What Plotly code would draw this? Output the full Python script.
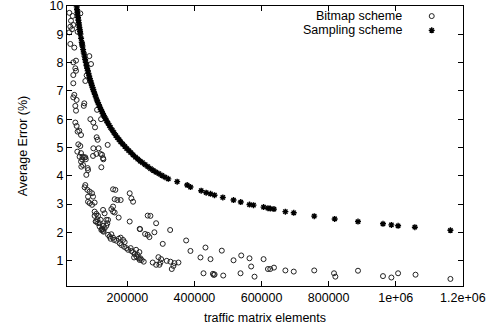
import plotly.graph_objects as go

# ---- data ----
bitmap_x = [
    26900, 36700, 31900, 38800, 29900, 34900, 26900, 59700, 51600, 29900,
    41800, 38800, 46900, 44800, 46900, 38800, 38800, 78500, 74600, 86600,
    91600, 41800, 38800, 48700, 44800, 46900, 71600, 70000, 109600, 121500,
    89600, 98500, 103600, 44800, 48700, 51600, 56700, 61800, 53700, 59700,
    108400, 111300, 141200, 98500, 114300, 61800, 66600, 74600, 124500, 128400,
    61800, 76000, 81500,
    50750, 57600, 64800, 70700, 67800, 62700, 97600, 107500, 120300, 127500,
    122400, 82700, 77600, 74600, 72500, 80600, 87500, 94600, 97600, 82700,
    82700, 87500, 94600, 102400, 102400, 107500, 112500, 110500, 120300, 117300,
    107500, 127500, 132200, 127500, 137300, 142400, 157300, 164200, 162100, 170200,
    180000, 157300, 152200, 157300, 162100, 174000, 206900, 211900, 217000, 206900,
    102400, 105400, 112500, 117300, 122400, 127500, 132200, 137300, 140300, 236700,
    142400, 150100, 157300, 160300, 167100, 174000, 180000, 177000, 182100, 190100,
    197000, 202100, 211900, 217000, 221800, 227000, 233700, 236700, 220000, 209900,
    191900, 187200, 147200, 152200, 126000, 129000, 124000,
    260600, 268700, 285700, 237900, 252800, 260600, 265700, 280600, 327500, 305400,
    375200, 388000, 432800, 481500, 417900, 447800, 516400, 426900, 457600, 455000,
    460000, 485700, 537300, 226000, 235800, 238800, 248700, 230700, 242700, 275500,
    285700, 292500, 300600, 298500, 295500, 317300, 328400, 340300, 337300, 332300,
    352200,
    539400, 564000, 569000, 579000, 606000, 619000, 626000, 637000, 671000, 696000,
    757000, 816000, 820000, 887500, 962000, 987000, 1007000, 1059000, 1163000,
]
bitmap_y = [
    9.76, 9.65, 9.48, 9.33, 9.27, 9.18, 9.07, 9.74, 9.09, 8.66,
    8.53, 8.01, 8.07, 7.80, 7.71, 7.56, 7.27, 7.55, 7.35, 8.23,
    7.95, 6.86, 6.77, 6.68, 6.47, 6.30, 6.56, 6.47, 6.33, 6.00,
    6.00, 5.88, 5.71, 5.88, 5.76, 5.56, 5.59, 5.44, 5.11, 5.05,
    5.36, 5.27, 5.09, 4.97, 4.97, 4.80, 4.67, 4.65, 4.74, 4.58,
    4.50, 4.58, 4.27,
    4.85, 4.67, 4.58, 4.65, 4.38, 4.32, 4.70, 4.77, 4.77, 4.62,
    4.30, 4.20, 4.03, 3.67, 3.59, 3.50, 3.44, 3.38, 3.26, 3.26,
    3.08, 3.03, 2.97, 3.05, 2.73, 2.65, 2.58, 2.46, 2.44, 2.32,
    2.38, 2.79, 2.67, 2.23, 2.23, 2.44, 3.52, 3.50, 3.17, 3.14,
    3.14, 2.91, 2.82, 2.73, 2.70, 2.52, 3.38, 3.20, 3.08, 2.38,
    2.58, 2.38, 2.32, 2.20, 2.08, 2.05, 2.14, 2.44, 2.32, 2.12,
    1.91, 1.77, 1.81, 1.73, 1.70, 1.77, 1.81, 1.61, 1.55, 1.49,
    1.44, 1.38, 1.34, 1.30, 1.23, 1.14, 1.08, 1.02, 1.11, 1.44,
    1.65, 1.73, 1.85, 1.93, 2.10, 2.02, 2.12,
    2.59, 2.58, 2.32, 2.11, 1.94, 1.91, 1.83, 2.00, 2.08, 1.59,
    1.71, 1.34, 1.46, 1.35, 1.11, 1.05, 1.01, 0.55, 0.49, 0.53,
    0.51, 0.47, 0.55, 1.38, 1.30, 1.08, 0.96, 1.20, 1.02, 0.93,
    0.85, 1.12, 1.05, 0.93, 0.85, 0.99, 0.96, 0.91, 0.81, 0.70,
    0.93,
    1.18, 1.08, 0.79, 0.43, 1.05, 0.70, 0.70, 0.75, 0.65, 0.61,
    0.65, 0.55, 0.43, 0.64, 0.45, 0.40, 0.55, 0.50, 0.35,
]

sampling_x = [
    48000, 49000, 50000, 51000, 52000, 53000, 54000, 55000, 56000, 57000,
    58000, 59000, 60000, 62000, 64000, 65000, 66000, 68000, 70000, 72000,
    74000, 76000, 78000, 80000, 82000, 84000, 86000, 88000, 90000, 92000,
    94000, 96000, 98000, 100000, 103000, 106000, 109000, 112000, 115000, 118000,
    121000, 124000, 127000, 130000, 134000, 138000, 142000, 146000, 150000, 155000,
    160000, 165000, 170000, 175000, 180000, 186000, 192000, 198000, 204000, 210000,
    217000, 224000, 231000, 238000, 245000, 253000, 261000, 269000, 277000, 285000,
    294000, 303000, 312000, 322000,
    348400, 378200, 388100, 420000, 434900, 447800, 459700, 484500, 516400, 538000,
    564000, 576000, 606000, 619000, 626000, 637000, 671000, 696000, 757000, 818000,
    887500, 962000, 987000, 1007000, 1057000, 1163000,
]
sampling_y = [
    10.07, 9.97, 9.87, 9.77, 9.68, 9.59, 9.50, 9.41, 9.33, 9.24,
    9.16, 9.09, 9.01, 8.86, 8.72, 8.66, 8.59, 8.46, 8.34, 8.23,
    8.11, 8.01, 7.90, 7.80, 7.71, 7.62, 7.53, 7.44, 7.36, 7.28,
    7.20, 7.12, 7.05, 6.98, 6.88, 6.78, 6.68, 6.59, 6.51, 6.42,
    6.34, 6.27, 6.19, 6.12, 6.03, 5.94, 5.86, 5.78, 5.70, 5.61,
    5.52, 5.43, 5.35, 5.28, 5.20, 5.12, 5.04, 4.96, 4.89, 4.82,
    4.74, 4.66, 4.59, 4.52, 4.46, 4.39, 4.32, 4.25, 4.19, 4.13,
    4.07, 4.01, 3.95, 3.89,
    3.79, 3.67, 3.60, 3.47, 3.40, 3.36, 3.31, 3.23, 3.14, 3.07,
    2.98, 2.96, 2.89, 2.85, 2.84, 2.82, 2.73, 2.69, 2.57, 2.47,
    2.38, 2.30, 2.26, 2.23, 2.18, 2.07,
]

x_tickvals = [200000, 400000, 600000, 800000, 1000000, 1200000]
x_ticktext = ["200000", "400000", "600000", "800000", "1e+06", "1.2e+06"]
y_tickvals = [1, 2, 3, 4, 5, 6, 7, 8, 9, 10]
y_ticktext = ["1", "2", "3", "4", "5", "6", "7", "8", "9", "10"]
series_names = ["Bitmap scheme", "Sampling scheme"]

FONT = "Liberation Sans, Arial, Helvetica, sans-serif"
FS = 12.5

circle_marker = dict(symbol="circle-open", size=5, color="#222222", line=dict(width=1, color="#222222"))
star_marker = dict(symbol="asterisk-open", size=5, color="black", line=dict(width=1.4, color="black"))

fig = go.Figure()
fig.add_trace(go.Scatter(x=bitmap_x, y=bitmap_y, mode="markers", marker=circle_marker,
                         name=series_names[0], showlegend=False))
fig.add_trace(go.Scatter(x=sampling_x, y=sampling_y, mode="markers", marker=star_marker,
                         name=series_names[1], showlegend=False))

# gnuplot-style legend: right-aligned text with key symbol to its right
key_x = 0.921
text_x = 0.851
key_rows = [0.964, 0.913]
for name, ky, mk in zip(series_names, key_rows, [circle_marker, star_marker]):
    fig.add_trace(go.Scatter(x=[key_x], y=[ky], xaxis="x2", yaxis="y2", mode="markers",
                             marker=mk, showlegend=False, hoverinfo="skip"))
    fig.add_annotation(x=text_x, y=ky, xref="paper", yref="paper", text=name,
                       showarrow=False, xanchor="right", yanchor="middle",
                       font=dict(family=FONT, size=FS, color="black"))

axis_common = dict(showline=True, linecolor="black", linewidth=1, mirror="ticks",
                   ticks="inside", ticklen=5, tickcolor="black", tickwidth=1,
                   showgrid=False, zeroline=False, ticklabeloverflow="allow",
                   automargin=False,
                   tickfont=dict(family=FONT, size=FS, color="black"))

fig.update_layout(
    width=497, height=333,
    margin=dict(l=67, r=34, t=6, b=47),
    paper_bgcolor="white", plot_bgcolor="white",
    xaxis=dict(range=[20000, 1200500], tickvals=x_tickvals, ticktext=x_ticktext,
               title=dict(text="traffic matrix elements", standoff=9,
                          font=dict(family=FONT, size=FS, color="black")),
               **axis_common),
    yaxis=dict(range=[0.1, 10.002], tickvals=y_tickvals, ticktext=y_ticktext,
               title=dict(text="Average Error (%)", standoff=19,
                          font=dict(family=FONT, size=FS, color="black")),
               **axis_common),
    xaxis2=dict(overlaying="x", range=[0, 1], visible=False),
    yaxis2=dict(overlaying="y", range=[0, 1], visible=False),
    showlegend=False,
)

fig.write_html("out.html")
